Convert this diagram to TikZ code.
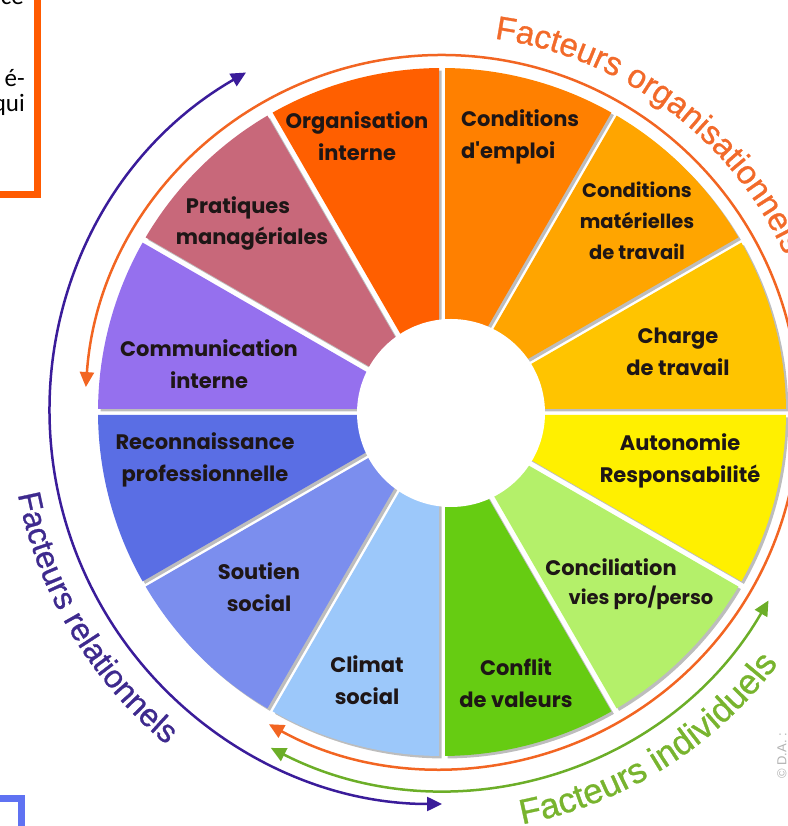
\documentclass[tikz,border=0pt]{standalone}
\usepackage{fontspec}
\setmainfont{Liberation Sans}
\newfontfamily\arcfont{Liberation Sans}[FakeBold=0.9]
\newfontfamily\labfont{Poppins}
\newfontfamily\boxfont{Carlito}
\usetikzlibrary{arrows.meta,decorations.text}
\definecolor{cOrg}{HTML}{FF5F00}
\definecolor{cEmp}{HTML}{FF8000}
\definecolor{cMat}{HTML}{FFA500}
\definecolor{cCha}{HTML}{FFC400}
\definecolor{cAut}{HTML}{FFF000}
\definecolor{cCon}{HTML}{B4F06A}
\definecolor{cVal}{HTML}{66CC12}
\definecolor{cCli}{HTML}{9CC8FA}
\definecolor{cSou}{HTML}{7B8EEE}
\definecolor{cRec}{HTML}{5A6EE4}
\definecolor{cCom}{HTML}{9570EE}
\definecolor{cPra}{HTML}{C8687A}
\definecolor{shad}{HTML}{BDBDBD}
\definecolor{arcOr}{HTML}{F26522}
\definecolor{arcPu}{HTML}{3A1C9A}
\definecolor{arcGr}{HTML}{6CAE28}
\definecolor{txOr}{HTML}{F26A2A}
\definecolor{txPu}{HTML}{3E2A8E}
\definecolor{txGr}{HTML}{78B42E}
\definecolor{labtx}{HTML}{1E1616}
\definecolor{boxOr}{HTML}{FF5A00}
\definecolor{boxBl}{HTML}{5F72F2}
\begin{document}
\begin{tikzpicture}[x=1pt,y=1pt,
  lab/.style={font=\labfont\bfseries\fontsize{21}{32}\selectfont, text=labtx, align=center, inner sep=0pt},
  labsm/.style={lab, font=\labfont\bfseries\fontsize{19.5}{31}\selectfont},
  tips/.style={{Triangle[length=15pt,width=14pt]}-{Triangle[length=15pt,width=14pt]}},
  ring/.style={line width=2.5pt, tips},
  boxtxt/.style={font=\boxfont\fontsize{25}{30}\selectfont, anchor=base east, inner sep=0pt}]
\useasboundingbox (0,0) rectangle (787,826);
% shadows
\begin{scope}[shift={(444.5,411.5)}]
\foreach \a in {-150,-120,...,180}
  \fill[shad] (\a+15:11.6pt) -- (\a+0.5:344pt) arc[start angle=\a+0.5, end angle=\a+29.5, radius=344pt] -- cycle;
\end{scope}
% slices
\begin{scope}[shift={(442,414)}]
\foreach \a/\c in {90/cOrg,60/cEmp,30/cMat,0/cCha,-30/cAut,-60/cCon,-90/cVal,-120/cCli,-150/cSou,180/cRec,150/cCom,120/cPra}
  \fill[\c] (\a+15:11.6pt) -- (\a+0.5:344pt) arc[start angle=\a+0.5, end angle=\a+29.5, radius=344pt] -- cycle;
\end{scope}
\fill[white] (451,413) circle[radius=94pt];
% rings
\begin{scope}[shift={(442,414)}]
\draw[ring, arcOr] (176:357pt) arc[start angle=176, end angle=-119, radius=357pt];
\draw[ring, arcGr] (-117:377pt) arc[start angle=-117, end angle=-30, radius=377pt];
\draw[ring, arcPu] (120:392pt) arc[start angle=120, end angle=270, radius=392pt];
\path[decorate, decoration={text along path, text align=left,
  text={|\arcfont\fontsize{33}{38}\selectfont\color{txOr}|Facteurs organisationnels}}]
  (82:377pt) arc[start angle=82, end angle=0, radius=377pt];
\path[decorate, decoration={text along path, text align=left,
  text={|\arcfont\fontsize{32}{38}\selectfont\color{txPu}|Facteurs relationnels}}]
  (191:432pt) arc[start angle=191, end angle=262, radius=432pt];
\path[decorate, decoration={text along path, text align=left,
  text={|\arcfont\fontsize{35}{40}\selectfont\color{txGr}|Facteurs individuels}}]
  (-79:420pt) arc[start angle=-79, end angle=-15, radius=420pt];
\end{scope}
% labels
\node[lab] (org) at (357,690) {Organisation\\interne};
\node[lab, align=left, anchor=west] (emp) at (461,689) {Conditions\\d'emploi};
\node[labsm] (mat) at (637,605) {Conditions\\matérielles\\de travail};
\node[lab] (cha) at (678,474) {Charge\\de travail};
\node[lab] (aut) at (680,365) {Autonomie\\Responsabilité};
\node[lab] (conca) at (611,259) {Conciliation};
\node[labsm] (concb) at (641,228) {vies pro/perso};
\node[lab] (val) at (516,143) {Conflit\\de valeurs};
\node[lab] (cli) at (367,146) {Climat\\social};
\node[lab] (sou) at (259,239) {Soutien\\social};
\node[lab] (rec) at (205,366) {Reconnaissance\\professionnelle};
\node[lab] (com) at (209,462) {Communication\\interne};
\node[lab] (praa) at (238,618) {Pratiques};
\node[lab] (prab) at (252,587) {managériales};
% partial boxes
\draw[boxOr, line width=7.5pt] (-30,860) rectangle (37.5,631.5);
\node[boxtxt] (t1) at (24,821) {ce};
\node[boxtxt] (t2) at (25,739) {é-};
\node[boxtxt] (t3) at (25,714) {qui};
\draw[boxBl, line width=7pt] (-30,-30) rectangle (21.5,27.5);
\node[rotate=90, text=gray!60, font=\fontsize{13}{15}\selectfont, anchor=south] (copy) at (790,70) {© D.A. :};
\end{tikzpicture}
\end{document}
